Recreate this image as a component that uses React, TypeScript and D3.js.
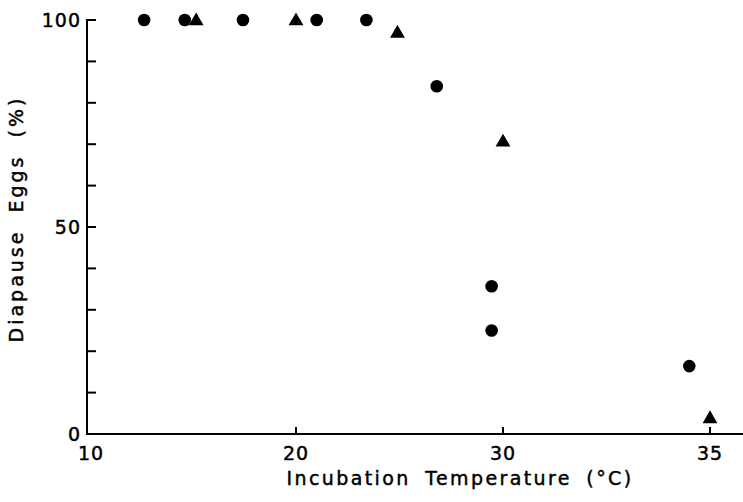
import React from "react";
import * as d3 from "d3";

const circleTemps = [12.7, 14.65, 17.45, 21.0, 23.4, 26.8, 29.45, 29.45, 34.5];
const circleValues = [100, 100, 100, 100, 100, 84, 35.7, 25, 16.4];
const triangleTemps = [15.2, 20, 24.9, 30, 35];
const triangleValues = [100, 100, 97, 70.7, 3.9];
const xTickValues = [10, 20, 30, 35];
const yTickValues = [0, 10, 20, 30, 40, 50, 60, 70, 80, 90, 100];
const yLabelValues = [0, 50, 100];

const W = 743;
const H = 502;
const FONT = "'DejaVu Sans', sans-serif";

export default function App() {
  // The original axis is drawn with equal spacing for 10-20-30-35
  const x = d3.scaleLinear().domain([10, 20, 30, 35]).range([88, 296, 503, 710]);
  const y = d3.scaleLinear().domain([0, 100]).range([434, 20]);
  const axisX = 87;
  const axisY = y(0);
  const tri = d3.symbol().type(d3.symbolTriangle).size(95)();
  const textStyle = { stroke: "#000", strokeWidth: 0.45 };

  return (
    <svg
      width={W}
      height={H}
      style={{ position: "absolute", left: 0, top: 0, background: "#fff" }}
      fontFamily={FONT}
    >
      <rect x={0} y={0} width={W} height={H} fill="#fff" />
      {/* axes */}
      <line x1={axisX} y1={y(100) - 1} x2={axisX} y2={axisY + 1} stroke="#000" strokeWidth={2} />
      <line x1={axisX - 1} y1={axisY} x2={W} y2={axisY} stroke="#000" strokeWidth={2} />
      {yTickValues.map((v) => (
        <line key={"yt" + v} x1={axisX} x2={axisX + 9} y1={y(v)} y2={y(v)} stroke="#000" strokeWidth={2} />
      ))}
      {xTickValues.filter((v) => v !== 10).map((v) => (
        <line key={"xt" + v} x1={x(v)} x2={x(v)} y1={axisY} y2={axisY - 7} stroke="#000" strokeWidth={2} />
      ))}
      {yLabelValues.map((v) => (
        <text key={"yl" + v} x={axisX - 6} y={y(v)} dy="0.36em" textAnchor="end" fontSize={19} fill="#000" letterSpacing={1} style={textStyle}>
          {v}
        </text>
      ))}
      {xTickValues.map((v) => (
        <text key={"xl" + v} x={x(v) + (v === 10 ? 3 : 0)} y={axisY + 26} textAnchor="middle" fontSize={19} fill="#000" letterSpacing={1} style={textStyle}>
          {v}
        </text>
      ))}
      <text x={460} y={485} textAnchor="middle" fontSize={19} fill="#000" letterSpacing={2.4} wordSpacing={6} style={textStyle}>
        Incubation Temperature (°C)
      </text>
      <text
        transform={`translate(23,219) rotate(-90)`}
        textAnchor="middle"
        fontSize={19}
        fill="#000"
        letterSpacing={3}
        wordSpacing={8}
        style={textStyle}
      >
        Diapause Eggs (%)
      </text>
      {circleTemps.map((t, i) => (
        <circle key={"c" + i} cx={x(t)} cy={y(circleValues[i])} r={6.3} fill="#000" />
      ))}
      {triangleTemps.map((t, i) => (
        <path key={"t" + i} d={tri as string} transform={`translate(${x(t)},${y(triangleValues[i]) + 1})`} fill="#000" />
      ))}
    </svg>
  );
}
